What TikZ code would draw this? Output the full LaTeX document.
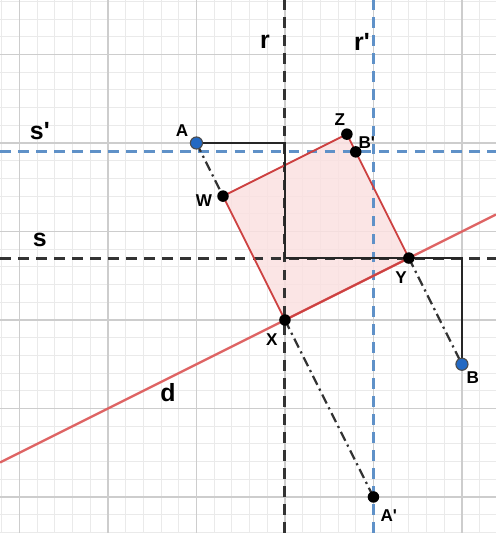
\documentclass[tikz,border=0pt]{standalone}
\usepackage{fontspec}
\setmainfont{Liberation Sans}
\usetikzlibrary{positioning}

\definecolor{gridmaj}{RGB}{205,205,205}
\definecolor{gridmin}{RGB}{234,234,234}
\definecolor{lblue}{RGB}{95,145,200}
\definecolor{lred}{RGB}{222,100,100}
\definecolor{sqred}{RGB}{205,65,65}
\definecolor{sqfill}{RGB}{250,224,224}
\definecolor{ptblue}{RGB}{35,105,195}

\newcommand{\pr}{\textquotesingle}

\begin{document}
\begin{tikzpicture}[
  ln/.style={line width=0.95pt, dash pattern=on 3.4pt off 2.4pt},
  dd/.style={line width=0.7pt, black!80, dash pattern=on 3.2pt off 1.4pt on 0.7pt off 1.4pt},
  path/.style={line width=0.7pt, black!85},
  pt/.style={circle, fill=black, inner sep=0pt, minimum size=3.7pt},
  bpt/.style={circle, fill=ptblue, draw=black!70, line width=0.35pt, inner sep=0pt, minimum size=3.9pt},
  lbl/.style={font=\fontsize{5.5}{6}\selectfont\bfseries, inner sep=0pt},
  llbl/.style={font=\fontsize{8}{9}\selectfont\bfseries, inner sep=0pt}
]
  \useasboundingbox (-3.22,-2.407) rectangle (2.384,3.616);
  % grid
  \draw[gridmin, line width=0.3pt] (-3.22,-2.407) grid[step=0.2] (2.384,3.616);
  \draw[gridmaj, line width=0.45pt] (-3.22,-2.407) grid[step=1] (2.384,3.616);

  % points
  \coordinate (A)  at (-1,2);
  \coordinate (B)  at (2,-0.5);
  \coordinate (X)  at (0,0);
  \coordinate (Y)  at (1.4,0.7);
  \coordinate (Z)  at (0.7,2.1);
  \coordinate (W)  at (-0.7,1.4);
  \coordinate (Bp) at (0.8,1.9);
  \coordinate (Ap) at (1,-2);
  \coordinate (ar) at (0,2);
  \coordinate (sr) at (0,0.7);
  \coordinate (sb) at (2,0.7);

  % square
  \fill[sqfill, opacity=0.85] (W) -- (X) -- (Y) -- (Z) -- cycle;

  % lines r, r', s, s', d
  \draw[ln, black!80] (0,-2.407) -- (0,3.616);
  \draw[ln, lblue] (1,-2.407) -- (1,3.616);
  \draw[ln, black!80] (-3.22,0.7) -- (2.384,0.7);
  \draw[ln, lblue] (-3.22,1.9) -- (2.384,1.9);
  \draw[lred, line width=0.75pt] (-3.22,-1.61) -- (2.384,1.192);

  \draw[sqred, line width=0.6pt] (W) -- (X) -- (Y) -- (Z) -- cycle;

  % helper path and projections
  \draw[path] (A) -- (ar) -- (sr) -- (sb) -- (B);
  \draw[dd] (A) -- (W);
  \draw[dd] (X) -- (Ap);
  \draw[dd] (Y) -- (B);

  \node[bpt] (nA) at (A) {};
  \node[bpt] (nB) at (B) {};
  \node[pt] (nX) at (X) {};
  \node[pt] (nY) at (Y) {};
  \node[pt] (nZ) at (Z) {};
  \node[pt] (nW) at (W) {};
  \node[pt] (nBp) at (Bp) {};
  \node[pt] (nAp) at (Ap) {};

  % labels
  \node[lbl] (lA)  at (-1.164,2.135) {A};
  \node[lbl] (lZ)  at (0.621,2.26) {Z};
  \node[lbl] (lBp) at (0.925,2.01) {B\pr};
  \node[lbl] (lW)  at (-0.915,1.345) {W};
  \node[lbl] (lX)  at (-0.147,-0.226) {X};
  \node[lbl] (lY)  at (1.311,0.475) {Y};
  \node[lbl] (lB)  at (2.124,-0.655) {B};
  \node[lbl] (lAp) at (1.174,-2.215) {A\pr};
  \node[llbl] (lr)  at (-0.226,3.14) {r};
  \node[llbl] (lrp) at (0.87,3.14) {r\pr};
  \node[llbl] (lsp) at (-2.77,2.135) {s\pr};
  \node[llbl] (ls)  at (-2.77,0.904) {s};
  \node[llbl] (ld)  at (-1.322,-0.825) {d};
\end{tikzpicture}
\end{document}
